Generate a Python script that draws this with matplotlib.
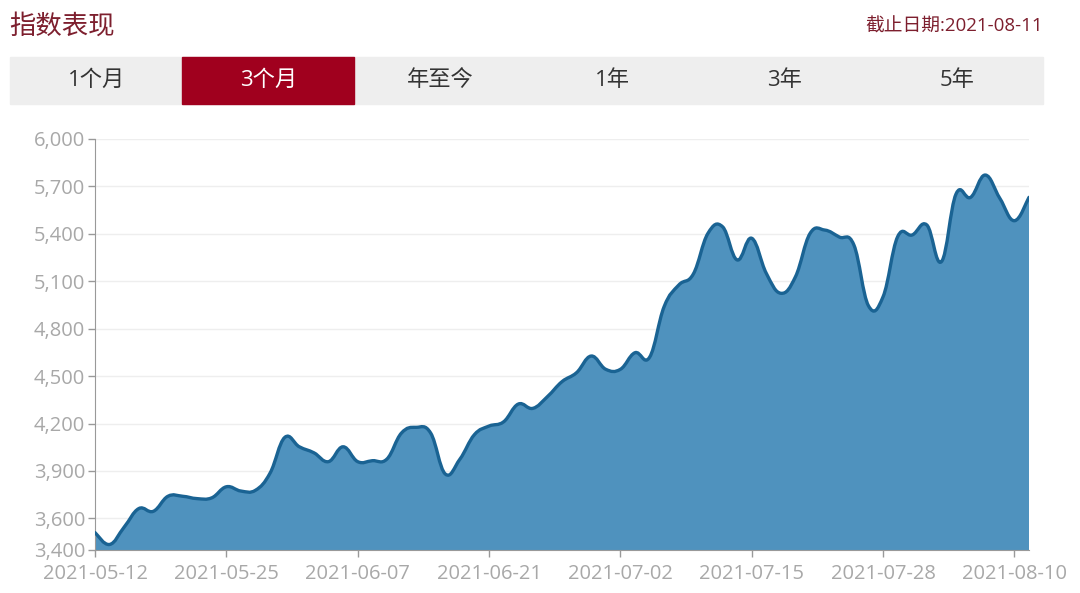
"""Index performance chart (3-month tab), area chart with smoothed line."""
import matplotlib

matplotlib.use("Agg")
import matplotlib.pyplot as plt
from matplotlib.patches import PathPatch, Rectangle
from matplotlib.path import Path

plt.rcParams["font.family"] = ["Open Sans", "Noto Sans CJK SC", "DejaVu Sans"]

# trading-day closes, 2021-05-12 .. 2021-08-11 (65 sessions)
index_values = [
    3510, 3435, 3545, 3662, 3645, 3740, 3740, 3725, 3730, 3800,
    3773, 3778, 3887, 4112, 4053, 4015, 3959, 4053, 3959, 3965,
    3975, 4140, 4176, 4140, 3881, 3974, 4130, 4184, 4211, 4323,
    4296, 4370, 4465, 4522, 4627, 4543, 4543, 4648, 4619, 4940,
    5076, 5146, 5403, 5445, 5235, 5372, 5150, 5024, 5129, 5403,
    5424, 5380, 5330, 4945, 5002, 5382, 5393, 5456, 5224, 5652,
    5631, 5772, 5625, 5483, 5631,
]
tick_index = [0, 9, 18, 27, 36, 45, 54, 63]
tick_labels = [
    "2021-05-12", "2021-05-25", "2021-06-07", "2021-06-21",
    "2021-07-02", "2021-07-15", "2021-07-28", "2021-08-10",
]
y_ticks = [3400, 3600, 3900, 4200, 4500, 4800, 5100, 5400, 5700, 6000]
tab_labels = ["1个月", "3个月", "年至今", "1年", "3年", "5年"]
selected_tab = 1
title = "指数表现"
as_of = "截止日期:2021-08-11"

_W, _H = 1080, 593
_RED = "#a0001e"
_TITLE_RED = "#7d1f2e"
_FILL = "#4f92be"
_LINE = "#1a6393"
_GREY_TXT = "#a8a8a8"


def smooth_verts(xs, ys, k=0.2):
    """Cubic Bezier vertices through every point (echarts-like smoothing)."""
    verts = [(xs[0], ys[0])]
    codes = [Path.MOVETO]
    n = len(xs)
    for i in range(n - 1):
        a = max(i - 1, 0)
        b = min(i + 2, n - 1)
        c1 = (xs[i] + (xs[i + 1] - xs[a]) * k, ys[i] + (ys[i + 1] - ys[a]) * k)
        c2 = (xs[i + 1] - (xs[b] - xs[i]) * k, ys[i + 1] - (ys[b] - ys[i]) * k)
        verts += [c1, c2, (xs[i + 1], ys[i + 1])]
        codes += [Path.CURVE4] * 3
    return verts, codes


def fx(px):
    return px / _W


def fy(py):
    return 1 - py / _H


fig = plt.figure(figsize=(10.8, 5.93), dpi=100)

# header
fig.text(fx(9), fy(26), title, color=_TITLE_RED, fontsize=19,
         ha="left", va="center", family=["Noto Sans CJK SC"])
fig.text(fx(1043), fy(27), as_of, color=_TITLE_RED, fontsize=13.5,
         ha="right", va="center")

# tab bar
bar_left, bar_right, bar_top, bar_bot = 10, 1043, 57, 104
tab_w = (bar_right - bar_left) / len(tab_labels)
fig.add_artist(Rectangle((fx(bar_left), fy(bar_bot)), fx(bar_right - bar_left),
                         (bar_bot - bar_top) / _H, color="#eeeeee",
                         transform=fig.transFigure, zorder=0))
for i, label in enumerate(tab_labels):
    x0 = bar_left + i * tab_w
    color = "#333333"
    if i == selected_tab:
        fig.add_artist(Rectangle((fx(x0), fy(bar_bot)), fx(tab_w),
                                 (bar_bot - bar_top) / _H, color=_RED,
                                 transform=fig.transFigure, zorder=1))
        color = "white"
    fig.text(fx(x0 + tab_w / 2), fy((bar_top + bar_bot) / 2), label,
             color=color, fontsize=16, ha="center", va="center", zorder=2)

# chart
ax = fig.add_axes([fx(95), fy(550), fx(1029 - 95), (550 - 139) / _H])
xs = list(range(len(index_values)))
verts, codes = smooth_verts(xs, index_values)
base = y_ticks[0]
fill_verts = verts + [(xs[-1], base), (xs[0], base), (xs[0], index_values[0])]
fill_codes = codes + [Path.LINETO, Path.LINETO, Path.CLOSEPOLY]
ax.add_patch(PathPatch(Path(fill_verts, fill_codes), facecolor=_FILL,
                       edgecolor="none", zorder=2))
ax.add_patch(PathPatch(Path(verts, codes), facecolor="none", edgecolor=_LINE,
                       lw=2.4, zorder=3, capstyle="round", joinstyle="round"))

ax.set_xlim(0, len(index_values) - 1)
ax.set_ylim(y_ticks[0], y_ticks[-1])
ax.set_yticks(y_ticks)
ax.set_yticklabels([f"{v:,}" for v in y_ticks])
ax.set_xticks(tick_index)
ax.set_xticklabels(tick_labels)
ax.grid(axis="y", color="#eeeeee", lw=1, zorder=0)
for side in ("top", "right"):
    ax.spines[side].set_visible(False)
ax.spines["left"].set_color("#999999")
ax.spines["bottom"].set_color("#999999")
ax.tick_params(axis="both", colors="#999999", labelcolor=_GREY_TXT,
               labelsize=14.5, length=5, width=1)
ax.tick_params(axis="y", pad=2)
ax.tick_params(axis="x", pad=5)

fig.savefig("out.png", dpi=100)
